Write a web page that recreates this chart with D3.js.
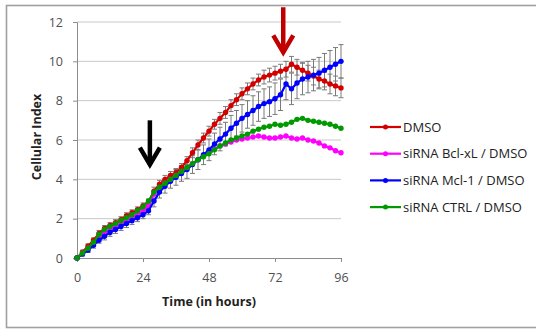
<!DOCTYPE html>
<html><head><meta charset="utf-8">
<script src="https://cdn.jsdelivr.net/npm/d3@7"></script>
<style>body{margin:0;background:#fff}svg{display:block}</style>
</head><body><svg id="c" width="536" height="329"></svg>
<script>
const hours = [0,2,4,6,8,10,12,14,16,18,20,22,24,26,28,30,32,34,36,38,40,42,44,46,48,50,52,54,56,58,60,62,64,66,68,70,72,74,76,78,80,82,84,86,88,90,92,94,96];
const dmso = [0,0.3,0.6,0.9,1.25,1.5,1.65,1.8,1.95,2.15,2.3,2.45,2.65,2.85,3.4,3.75,4.0,4.2,4.35,4.6,4.95,5.35,5.75,6.1,6.45,6.8,7.1,7.4,7.75,8.05,8.35,8.6,8.85,9.05,9.2,9.3,9.4,9.5,9.6,9.85,9.7,9.55,9.4,9.25,9.1,9.0,8.85,8.75,8.65];
const bclxl = [0,0.25,0.5,0.75,1.05,1.3,1.45,1.6,1.75,1.9,2.05,2.2,2.4,2.65,3.25,3.55,3.8,4.0,4.2,4.4,4.6,4.8,5.0,5.2,5.4,5.55,5.7,5.8,5.9,6.0,6.05,6.1,6.15,6.2,6.15,6.1,6.1,6.15,6.2,6.1,6.05,6.1,6.0,5.95,5.85,5.7,5.6,5.45,5.35];
const mcl1 = [0,0.2,0.4,0.65,0.9,1.1,1.3,1.45,1.6,1.75,1.9,2.05,2.2,2.4,2.9,3.35,3.65,3.9,4.1,4.3,4.5,4.75,5.0,5.25,5.5,5.8,6.05,6.3,6.6,6.85,7.1,7.3,7.5,7.7,7.85,7.95,8.1,8.3,8.85,8.6,8.9,9.1,9.2,9.3,9.4,9.55,9.7,9.85,10.0];
const ctrl = [0,0.25,0.5,0.8,1.2,1.45,1.6,1.75,1.9,2.05,2.2,2.4,2.6,2.9,3.35,3.6,3.8,4.0,4.2,4.4,4.6,4.8,5.0,5.15,5.3,5.5,5.7,5.85,6.0,6.1,6.2,6.3,6.45,6.55,6.65,6.7,6.8,6.75,6.8,6.9,7.05,7.1,7.0,6.95,6.9,6.85,6.8,6.7,6.6];
const dmsoErr = [0,0.1,0.12,0.12,0.15,0.15,0.15,0.15,0.15,0.15,0.15,0.15,0.15,0.15,0.2,0.2,0.2,0.2,0.2,0.2,0.2,0.25,0.25,0.25,0.25,0.25,0.3,0.3,0.3,0.3,0.3,0.3,0.3,0.3,0.35,0.35,0.35,0.35,0.4,0.4,0.4,0.4,0.4,0.45,0.45,0.45,0.5,0.5,0.5];
const mcl1Err = [0,0.1,0.12,0.15,0.15,0.18,0.2,0.2,0.2,0.2,0.2,0.2,0.2,0.2,0.3,0.3,0.35,0.35,0.4,0.4,0.45,0.45,0.5,0.5,0.55,0.55,0.6,0.6,0.65,0.65,0.7,0.7,0.75,0.75,0.75,0.75,0.8,0.8,0.8,0.8,0.8,0.8,0.8,0.8,0.8,0.85,0.85,0.85,0.85];
const yTicks = [0,2,4,6,8,10,12];
const xTicks = [0,24,48,72,96];
const seriesNames = ["DMSO","siRNA Bcl-xL / DMSO","siRNA Mcl-1 / DMSO","siRNA CTRL / DMSO"];
const seriesColors = ["#d40000","#ff00ff","#0000ff","#009a00"];
const seriesData = [dmso, bclxl, mcl1, ctrl];
const seriesErr = [dmsoErr, null, mcl1Err, null];
const arrows = [{t:26.5, top:7.0, tip:4.6, color:"#000000"},{t:75, top:12.75, tip:10.3, color:"#c00000"}];

const svg = d3.select("#c");
const font = "'Open Sans', 'Liberation Sans', sans-serif";
// frame
svg.append("rect").attr("x",6.5).attr("y",5.5).attr("width",540).attr("height",322).attr("fill","none").attr("stroke","#a0a0a0").attr("stroke-width",1.6);

const x = d3.scaleLinear().domain([0,96]).range([77,341]);
const y = d3.scaleLinear().domain([0,12]).range([258,22]);

// gridlines
svg.append("g").selectAll("line").data(yTicks.slice(1)).join("line")
  .attr("x1",x(0)).attr("x2",x(96)).attr("y1",d=>y(d)).attr("y2",d=>y(d))
  .attr("stroke","#c8c8c8").attr("stroke-width",1);

const yAxis = svg.append("g").attr("transform",`translate(${x(0)},0)`)
  .call(d3.axisLeft(y).tickValues(yTicks).tickSize(4).tickPadding(10));
const xAxis = svg.append("g").attr("transform",`translate(0,${y(0)})`)
  .call(d3.axisBottom(x).tickValues(xTicks).tickSize(4).tickPadding(11));
[yAxis,xAxis].forEach(a=>{
  a.select(".domain").attr("stroke","#8c8c8c");
  a.selectAll(".tick line").attr("stroke","#8c8c8c");
  a.selectAll("text").attr("font-family",font).attr("font-size",12.5).attr("fill","#505050");
});

// titles
svg.append("text").attr("x",209).attr("y",306).attr("text-anchor","middle")
  .attr("font-family",font).attr("font-weight","bold").attr("font-size",12.5).attr("fill","#222").text("Time (in hours)");
svg.append("text").attr("transform","translate(41,137) rotate(-90)").attr("text-anchor","middle")
  .attr("font-family",font).attr("font-weight","bold").attr("font-size",12.5).attr("fill","#222").text("Cellular Index");

// error bars
seriesData.forEach((vals,si)=>{
  const err = seriesErr[si];
  if(!err) return;
  const g = svg.append("g").attr("stroke","#7a7a7a").attr("stroke-width",1);
  hours.forEach((h,i)=>{
    if(err[i]<=0) return;
    g.append("line").attr("x1",x(h)).attr("x2",x(h)).attr("y1",y(vals[i]-err[i])).attr("y2",y(vals[i]+err[i]));
    g.append("line").attr("x1",x(h)-2.5).attr("x2",x(h)+2.5).attr("y1",y(vals[i]-err[i])).attr("y2",y(vals[i]-err[i]));
    g.append("line").attr("x1",x(h)-2.5).attr("x2",x(h)+2.5).attr("y1",y(vals[i]+err[i])).attr("y2",y(vals[i]+err[i]));
  });
});

// series
const line = d3.line().x((d,i)=>x(hours[i])).y(d=>y(d));
seriesData.forEach((vals,si)=>{
  const c = seriesColors[si];
  svg.append("path").attr("d",line(vals)).attr("fill","none").attr("stroke",c).attr("stroke-width",2.2);
  svg.append("g").selectAll("circle").data(vals).join("circle")
    .attr("cx",(d,i)=>x(hours[i])).attr("cy",d=>y(d)).attr("r",2.7).attr("fill",c);
});

// arrows
arrows.forEach(a=>{
  const ax = x(a.t), y0 = y(a.top), y1 = y(a.tip);
  const g = svg.append("g").attr("stroke",a.color).attr("stroke-width",4.5).attr("fill","none").attr("stroke-linecap","butt");
  g.append("line").attr("x1",ax).attr("x2",ax).attr("y1",y0).attr("y2",y1-3);
  g.append("path").attr("d",`M${ax-10},${y1-20} L${ax},${y1-3} L${ax+10},${y1-20}`).attr("stroke-linejoin","miter");
});

// legend
const lg = svg.append("g");
seriesNames.forEach((n,i)=>{
  const ly = 127 + i*26.7;
  lg.append("line").attr("x1",370).attr("x2",401).attr("y1",ly).attr("y2",ly).attr("stroke",seriesColors[i]).attr("stroke-width",2.2);
  lg.append("circle").attr("cx",385.5).attr("cy",ly).attr("r",2.5).attr("fill",seriesColors[i]);
  lg.append("text").attr("x",403).attr("y",ly+4.5).attr("font-family",font).attr("font-size",13).attr("fill","#222").text(n);
});
</script></body></html>
